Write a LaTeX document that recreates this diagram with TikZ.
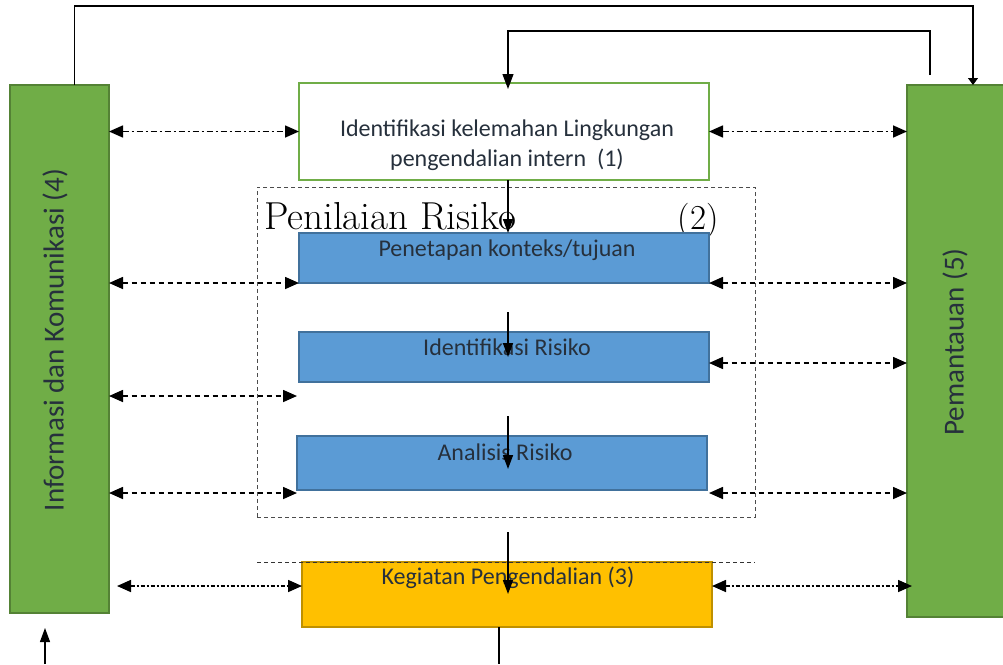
\documentclass[tikz,border=0pt]{standalone}
\usepackage{fontspec}
\setmainfont{Carlito}
\usetikzlibrary{arrows.meta}
\definecolor{gfill}{HTML}{70AD47}
\definecolor{gdraw}{HTML}{548235}
\definecolor{bfill}{HTML}{5B9BD5}
\definecolor{bdraw}{HTML}{41719C}
\definecolor{ofill}{HTML}{FFC000}
\definecolor{odraw}{HTML}{BF9000}
\definecolor{txt}{HTML}{26303C}
\tikzset{
  box/.style={rectangle, inner sep=0pt, outer sep=0pt, anchor=north west, line width=1.5pt},
  greenbox/.style={box, fill=gfill, draw=gdraw},
  bluebox/.style={box, fill=bfill, draw=bdraw},
  orangebox/.style={box, fill=ofill, draw=odraw},
  whitebox/.style={box, fill=white, draw=gfill, line width=2pt},
  boxtext/.style={text=txt, font=\fontsize{24}{30}\selectfont, inner sep=0pt},
  sidetext/.style={text=txt, font=\fontsize{29}{32}\selectfont, rotate=90, inner sep=0pt},
  serif/.style={inner sep=0pt, font=\fontspec{Latin Modern Roman}\fontsize{39}{39}\selectfont},
  serifsmall/.style={inner sep=0pt, font=\fontspec{Latin Modern Roman}\fontsize{35}{35}\selectfont},
  dbl/.style={{Triangle[length=14pt,width=12pt]}-{Triangle[length=14pt,width=12pt]}, line width=1.6pt},
  dashdotline/.style={dbl, dash pattern=on 6pt off 3pt on 2pt off 3pt},
  dashline/.style={dbl, dash pattern=on 5pt off 4pt},
  denseline/.style={dbl, dash pattern=on 4pt off 2pt on 2pt off 2pt},
  thin/.style={line width=1.1pt},
  vert/.style={line width=1.6pt, -{Triangle[length=14pt,width=10pt]}}
}
\begin{document}
\begin{tikzpicture}[x=1pt,y=-1pt]
\useasboundingbox (0,0) rectangle (1003,664);
% boxes
\node[greenbox, minimum width=99, minimum height=528] (L) at (10,85) {};
\node[greenbox, minimum width=110, minimum height=532] (R) at (907,85) {};
\node[sidetext] (Lt) at (55,340) {Informasi dan Komunikasi (4)};
\node[sidetext] (Rt) at (955,342) {Pemantauan (5)};
\node[whitebox, minimum width=410, minimum height=97] (W) at (299,83) {};
\node[boxtext, align=center] (Wt) at (507,145) {Identifikasi kelemahan Lingkungan\\pengendalian intern~~(1)};
\node[box, draw=black!70, line width=0.8pt, dash pattern=on 4pt off 3pt, minimum width=498, minimum height=330] (D) at (257,187) {};
\node[serif, anchor=base west] (P) at (264,229) {Penilaian Risiko};
\node[serifsmall, anchor=base east] (P2) at (719,229) {(2)};
\node[bluebox, minimum width=410, minimum height=50] (B1) at (299,233) {};
\node[boxtext] (B1t) at (507,250) {Penetapan konteks/tujuan};
\node[bluebox, minimum width=410, minimum height=50] (B2) at (299,332) {};
\node[boxtext] (B2t) at (507,347) {Identifikasi Risiko};
\node[bluebox, minimum width=410, minimum height=54] (B3) at (297,436) {};
\node[boxtext] (B3t) at (505,452) {Analisis Risiko};
\node[orangebox, minimum width=410, minimum height=65] (O) at (302,562) {};
\node[boxtext] (Ot) at (508,578) {Kegiatan Pengendalian (3)};
% coordinates
\coordinate (dl1) at (257,562);
\coordinate (dl2) at (755,562);
\coordinate (a2s) at (508,312);
\coordinate (a2e) at (508,357);
\coordinate (a3s) at (508,416);
\coordinate (a3e) at (508,469);
\coordinate (a4s) at (508,532);
\coordinate (a4e) at (508,594);
\coordinate (top1e) at (973,6);
\coordinate (rtop) at (973,85);
\coordinate (r2s) at (930,75);
\coordinate (r2m) at (930,31);
\coordinate (wtop) at (508,83);
\coordinate (bl1) at (45,664);
\coordinate (bl2) at (45,628);
\coordinate (bo1) at (499,664);
\coordinate (lr396) at (297,396);
\coordinate (rr363) at (709,363);
\coordinate (lb493) at (297,493);
\coordinate (rb493) at (709,493);
\coordinate (ll586) at (117,586);
\coordinate (lo586) at (302,586);
\coordinate (ro586) at (712,586);
\coordinate (rr586) at (912,586);
% dashed separator
\draw[black!80, line width=0.8pt, dash pattern=on 4pt off 3pt] (dl1) -- (dl2);
% top loops
\draw[thin, -{Triangle[length=7pt,width=10pt]}] ([xshift=15]L.north) |- (top1e) -- (rtop);
\draw[thin, -{Triangle[length=15pt,width=11pt]}] (r2s) -- (r2m) -| ([yshift=-6]wtop);
% vertical flow
\draw[vert] ([xshift=4]W.south) -- ([xshift=4]W.south |- B1.north);
\draw[vert] (a2s) -- (a2e);
\draw[vert] (a3s) -- (a3e);
\draw[vert] (a4s) -- (a4e);
\draw[thin] ([xshift=-8]O.south) -- (bo1);
\draw[thin, -{Triangle[length=14pt,width=10pt]}] (bl1) -- (bl2);
% horizontal double arrows
\draw[dashdotline] (L.east |- W.west) -- (W.west);
\draw[dashdotline] (W.east) -- (R.west |- W.east);
\draw[dashline] (L.east |- B1.south west) -- (B1.south west);
\draw[dashline] (B1.south east) -- (R.west |- B1.south east);
\draw[dashline] (L.east |- lr396) -- (lr396);
\draw[dashline] (rr363) -- (R.west |- rr363);
\draw[dashline] (L.east |- lb493) -- (lb493);
\draw[dashline] (rb493) -- (R.west |- rb493);
\draw[denseline] (ll586) -- (lo586);
\draw[denseline] (ro586) -- (rr586);
\end{tikzpicture}
\end{document}
